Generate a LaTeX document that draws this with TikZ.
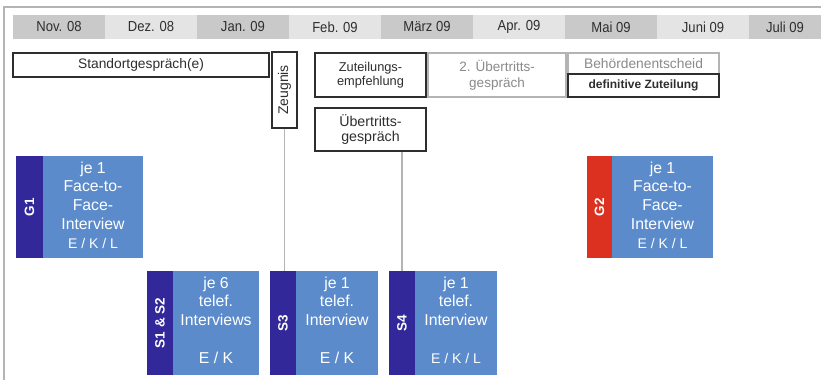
\documentclass[tikz,border=0pt]{standalone}
\usepackage{fontspec}
\setmainfont{Liberation Sans}
\newfontfamily\tlfont[FakeStretch=0.9]{Liberation Sans}
\definecolor{cellA}{HTML}{C9C9C9}
\definecolor{cellB}{HTML}{E4E4E4}
\definecolor{framegray}{HTML}{B4B4B4}
\definecolor{txtdark}{HTML}{2E2E2E}
\definecolor{txtgray}{HTML}{8A8A8A}
\definecolor{boxblue}{HTML}{5B8BCB}
\definecolor{stripblue}{HTML}{33289A}
\definecolor{stripred}{HTML}{DC3120}
\tikzset{
  cell/.style={inner sep=0pt, minimum height=24pt, text=txtdark, font=\tlfont\fontsize{14.5}{16}\selectfont},
  blackbox/.style={draw=txtdark, line width=1.1pt, fill=white, inner sep=0pt, text=txtdark, align=center},
  graybox/.style={draw=framegray, line width=1.1pt, fill=white, inner sep=0pt, text=txtgray, align=center},
  bluebox/.style={fill=boxblue, inner sep=0pt},
  stripbox/.style={fill=stripblue, inner sep=0pt},
  striplabel/.style={text=white, rotate=90, font=\bfseries\fontsize{13.5}{15}\selectfont, inner sep=0pt},
  bluetext/.style={text=white, align=center, inner sep=0pt, font=\fontsize{15.8}{18.7}\selectfont},
  connector/.style={draw=framegray, line width=1.1pt}
}
\begin{document}
\begin{tikzpicture}[x=1pt,y=-1pt]
\useasboundingbox (0,0) rectangle (821,380);
% outer frame
\draw[framegray, line width=2pt] (4,380) -- (4,6.5) -- (821,6.5);
% timeline
\node[cell, fill=cellA, minimum width=92pt] (m1) at (59,27) {Nov. 08};
\node[cell, fill=cellB, minimum width=92pt] (m2) at (151,27) {Dez. 08};
\node[cell, fill=cellA, minimum width=92pt] (m3) at (243,27) {Jan. 09};
\node[cell, fill=cellB, minimum width=92pt] (m4) at (335,27) {Feb. 09};
\node[cell, fill=cellA, minimum width=92pt] (m5) at (427,27) {März 09};
\node[cell, fill=cellB, minimum width=92pt] (m6) at (519,27) {Apr. 09};
\node[cell, fill=cellA, minimum width=92pt] (m7) at (611,27) {Mai 09};
\node[cell, fill=cellB, minimum width=92pt] (m8) at (703,27) {Juni 09};
\node[cell, fill=cellA, minimum width=72pt] (m9) at (785,27) {Juli 09};
% event boxes
\node[blackbox, minimum width=256pt, minimum height=24pt, font=\fontsize{13.8}{16}\selectfont] (standort) at (141,65) {Standortgespräch(e)};
\node[blackbox, minimum width=25pt, minimum height=76pt] (zeugnis) at (284.5,90) {};
\node[text=txtdark, rotate=90, inner sep=0pt, font=\fontsize{14}{16}\selectfont] (zeugnistext) at (zeugnis.center) {Zeugnis};
\node[blackbox, minimum width=111pt, minimum height=44pt, font=\fontsize{12.8}{14.5}\selectfont] (zut) at (370.5,75) {Zuteilungs-\\empfehlung};
\node[graybox, minimum width=138pt, minimum height=44pt, font=\fontsize{13.5}{15.5}\selectfont] (ueb2) at (497,75) {2. Übertritts-\\gespräch};
\node[graybox, minimum width=151pt, minimum height=21pt, font=\fontsize{13.8}{16}\selectfont] (beh) at (643.5,63.5) {Behördenentscheid};
\node[blackbox, minimum width=151pt, minimum height=23pt, font=\bfseries\fontsize{12}{14}\selectfont] (def) at (643.5,85.5) {definitive Zuteilung};
\node[blackbox, minimum width=111pt, minimum height=43pt, font=\fontsize{14.2}{15.5}\selectfont] (ueb) at (370.5,129.5) {Übertritts-\\gespräch};
% G1
\node[bluebox, minimum width=127pt, minimum height=102pt] (g1) at (79.5,207) {};
\node[stripbox, minimum width=27pt, minimum height=102pt] (g1s) at (29.5,207) {};
\node[striplabel] (g1l) at (g1s.center) {G1};
\node[bluetext] (g1t) at (93,205) {je 1\\Face-to-\\Face-\\Interview\\{\fontsize{14}{18.7}\selectfont E / K / L}};
% G2
\node[bluebox, minimum width=126pt, minimum height=102pt] (g2) at (650,207) {};
\node[stripbox, fill=stripred, minimum width=25pt, minimum height=102pt] (g2s) at (599.5,207) {};
\node[striplabel] (g2l) at (g2s.center) {G2};
\node[bluetext] (g2t) at (662.5,205) {je 1\\Face-to-\\Face-\\Interview\\{\fontsize{14}{18.7}\selectfont E / K / L}};
% S1 & S2
\node[bluebox, minimum width=112pt, minimum height=104pt] (s12) at (203,323) {};
\node[stripbox, minimum width=26pt, minimum height=104pt] (s12s) at (160,323) {};
\node[striplabel] (s12l) at (s12s.center) {S1 \& S2};
\node[bluetext] (s12t) at (216,320) {je 6\\telef.\\Interviews\\[18.7pt]E / K};
% S3
\node[bluebox, minimum width=108pt, minimum height=104pt] (s3) at (324,323) {};
\node[stripbox, minimum width=26pt, minimum height=104pt] (s3s) at (283,323) {};
\node[striplabel] (s3l) at (s3s.center) {S3};
\node[bluetext] (s3t) at (337,320) {je 1\\telef.\\Interview\\[18.7pt]E / K};
% S4
\node[bluebox, minimum width=108pt, minimum height=104pt] (s4) at (443,323) {};
\node[stripbox, minimum width=26pt, minimum height=104pt] (s4s) at (402,323) {};
\node[striplabel] (s4l) at (s4s.center) {S4};
\node[bluetext] (s4t) at (456,320) {je 1\\telef.\\Interview\\[18.7pt]{\fontsize{14}{18.7}\selectfont E / K / L}};
% connectors
\draw[connector] (zeugnis.south) -- (zeugnis.south |- s3s.north);
\draw[connector] (s4s.north) -- (s4s.north |- ueb.south);
\end{tikzpicture}
\end{document}
